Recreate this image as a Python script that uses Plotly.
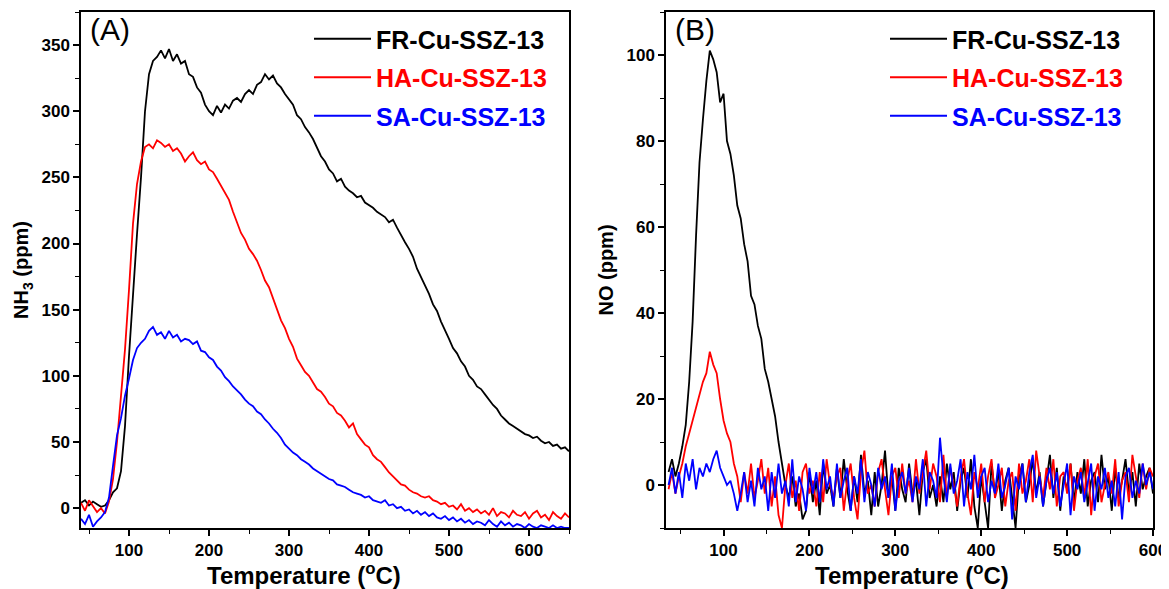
import plotly.graph_objects as go

# ---------------- Panel A: NH3 (ppm) vs temperature ----------------
temp_a = list(range(40, 651, 5))

nh3_fr = [4, 6, 2, 5, 3, 1, 2, 6, 12, 15,
          28, 62, 115, 165, 207, 250, 300, 328, 338, 341,
          346, 340, 347, 338, 343, 336, 338, 328, 326, 318,
          314, 305, 300, 297, 304, 299, 305, 302, 308, 310,
          307, 313, 316, 313, 320, 322, 328, 324, 327, 321,
          318, 313, 309, 305, 297, 294, 288, 284, 279, 272,
          266, 262, 256, 253, 247, 249, 243, 240, 238, 235,
          236, 231, 229, 227, 224, 222, 220, 216, 218, 212,
          206, 201, 196, 190, 181, 175, 168, 162, 154, 149,
          141, 135, 128, 121, 117, 111, 107, 100, 97, 92,
          90, 86, 82, 78, 75, 70, 67, 64, 62, 60,
          58, 56, 55, 53, 54, 51, 49, 50, 47, 48,
          45, 46, 43]

nh3_ha = [4, -2, 6, 1, -3, 0, -4, 5, 22, 50,
          82, 120, 165, 215, 245, 262, 273, 275, 272, 278,
          276, 273, 275, 270, 272, 268, 262, 266, 269, 263,
          260, 262, 256, 254, 249, 244, 238, 233, 224, 216,
          208, 203, 196, 192, 187, 180, 172, 167, 159, 150,
          142, 136, 128, 122, 113, 108, 103, 100, 95, 90,
          88, 84, 79, 77, 72, 70, 66, 61, 64, 56,
          52, 48, 46, 40, 37, 35, 31, 27, 24, 21,
          18, 17, 14, 12, 11, 9, 8, 9, 6, 5,
          3, 4, 1, 2, -1, 3, -2, 0, -3, -1,
          -4, -2, -5, 0, -6, -3, -4, -7, -2, -5,
          -6, -3, -8, -4, -2, -7, -5, -9, -3, -6,
          -8, -4, -7]

nh3_sa = [-8, -12, -5, -14, -10, -7, -3, 8, 32, 55,
          68, 85, 98, 112, 121, 125, 128, 134, 137, 131,
          133, 128, 134, 129, 131, 126, 128, 127, 124, 126,
          119, 118, 114, 112, 107, 104, 99, 96, 92, 89,
          86, 82, 79, 77, 73, 71, 67, 64, 60, 57,
          53, 48, 45, 42, 40, 37, 35, 33, 30, 28,
          26, 24, 22, 21, 18, 17, 16, 14, 12, 11,
          10, 8, 9, 6, 5, 4, 6, 2, 3, 0,
          1, -2, -1, -4, -2, -5, -3, -6, -4, -7,
          -8, -6, -9, -7, -10, -8, -11, -9, -12, -10,
          -11, -13, -9, -12, -14, -10, -13, -11, -14, -12,
          -13, -15, -12, -14, -15, -13, -14, -15, -13, -15,
          -14, -15, -15]

# ---------------- Panel B: NO (ppm) vs temperature ----------------
temp_b = list(range(36, 601, 4))

no_fr = [3, 6, 2, 5, 9, 14, 24, 38, 58, 75,
         85, 94, 101, 99, 96, 89, 91, 80, 77, 72,
         65, 62, 56, 52, 44, 42, 37, 34, 27, 24,
         20, 16, 10, 5, 0, -3, 2, -5, -2, -8,
         -6, 3, -4, 1, -7, 5, -2, 0, -5, 4,
         -3, 6, -1, -6, 2, -4, 7, -2, 1, -7,
         3, -5, 0, 8, -3, 2, -6, 4, -1, -4,
         5, -2, 1, -7, 3, 6, -3, 0, -5, 2,
         -4, 5, -1, 3, -6, 1, 4, -3, 6, -5,
         -10, 2, -4, -10, 5, -2, 3, -6, 1, 4,
         -3, -10, 2, 5, -4, 0, 6, -2, 3, -5,
         1, 7, -3, 4, -6, 2, -1, 5, -4, 3,
         -2, 6, -5, 1, 3, -4, 7, -1, 2, -6,
         4, -3, 1, 6, -2, 3, -5, 5, -1, 2,
         4, -2]

no_ha = [-1, 3, -2, 2, 5, 9, 12, 15, 18, 21,
         24, 26, 31, 28, 26, 20, 15, 12, 10, 5,
         2, -4, 3, -2, 5, -3, 1, 6, -2, 4,
         -5, 2, -7, -10, 0, 5, -3, 1, -6, 3,
         5, -2, 1, -5, 3, -4, 6, 0, -3, 2,
         4, -6, 1, 5, -3, -8, 3, 8, -2, 0,
         -5, 3, 6, -1, -7, 2, 4, -3, 5, -2,
         1, -4, 6, -2, 3, 8, -1, 5, 2, -4,
         7, -3, 4, 0, -5, 2, 6, -2, -7, 3,
         -1, 5, -4, 2, 6, -3, 0, 4, -5, 1,
         3, -6, 5, -2, 1, 6, -4, 8, 2, -3,
         4, -1, 6, -5, 2, 3, -2, 5, -6, 1,
         4, -3, 6, -7, 2, 5, -4, 0, 3, -2,
         6, -5, 1, 3, -4, 7, 2, -3, 5, -1,
         4, 2]

no_sa = [0, 4, -2, 3, -3, 5, 1, 6, -1, 4,
         2, 5, 3, 6, 8, 4, 2, 0, 1, -2,
         -6, -2, 3, -4, 1, -5, 4, -1, 2, -6,
         3, -3, 5, -2, 1, -5, 6, -4, 2, -1,
         -6, 4, -2, 3, -4, 6, -1, 2, -5, 5,
         -3, 1, 4, -6, 2, -2, 6, -4, 3, 0,
         -5, 4, -1, 2, -3, 5, -6, 1, 3, -2,
         4, -4, 2, -1, 6, -5, 3, 1, -3, 11,
         2, -4, 5, -2, 1, 6, -5, 3, -1, 7,
         -3, 2, 4, -4, 1, -2, 5, -3, 0, 4,
         -8, 2, -1, 5, -4, 3, 7, -3, 2, -5,
         1, 4, -2, 3, -5, 0, 5, -7, 2, -1,
         3, -4, 1, 5, -6, 2, -1, 4, -3, 1,
         -5, 3, -8, 2, 4, -3, 1, -2, 5, 0,
         3, -1]

series_names = ["FR-Cu-SSZ-13", "HA-Cu-SSZ-13", "SA-Cu-SSZ-13"]
series_colors = ["#000000", "#ff0000", "#0000ff"]

x_ticks = [100, 200, 300, 400, 500, 600]
ya_ticks = [0, 50, 100, 150, 200, 250, 300, 350]
yb_ticks = [0, 20, 40, 60, 80, 100]

FONT = "Liberation Sans, Arial, sans-serif"
# the page body has an 8px margin, so the figure starts at (8, 8) in the window
OFF = 8
W, H = 1169 - OFF, 589 - OFF

fig = go.Figure()

for name, color, ys in zip(series_names, series_colors, [nh3_fr, nh3_ha, nh3_sa]):
    fig.add_trace(go.Scatter(
        x=temp_a, y=ys, mode="lines", xaxis="x", yaxis="y",
        line=dict(color=color, width=1.8),
        name=f"<span style='color:{color}'>{name}</span>",
        legend="legend", legendgroup="a" + name))

for name, color, ys in zip(series_names, series_colors, [no_fr, no_ha, no_sa]):
    fig.add_trace(go.Scatter(
        x=temp_b, y=ys, mode="lines", xaxis="x2", yaxis="y2",
        line=dict(color=color, width=1.8),
        name=f"<span style='color:{color}'>{name}</span>",
        legend="legend2", legendgroup="b" + name))


def px_x(p):
    return (p - OFF) / W


def px_y(p):
    return 1 - (p - OFF) / H


def bold(vals):
    return [f"<b>{v}</b>" for v in vals]


axis_common = dict(
    showline=True, linecolor="black", linewidth=1.5, mirror=True,
    ticks="outside", ticklen=6, tickwidth=1.5, tickcolor="black",
    showgrid=False, zeroline=False,
    tickfont=dict(family=FONT, size=17, color="black"),
    automargin=False,
)
minor_style = dict(ticks="outside", ticklen=4, tickcolor="black", tickwidth=1.2, tick0=0)

ydom = [px_y(528), px_y(12)]
title_font_x = dict(family=FONT, size=24, color="black")
title_font_y = dict(family=FONT, size=20, color="black", weight="bold")

fig.update_layout(
    width=W, height=H,
    margin=dict(l=0, r=0, t=0, b=0),
    paper_bgcolor="white", plot_bgcolor="white",
    font=dict(family=FONT, color="black"),
    xaxis=dict(domain=[px_x(81), px_x(569)], range=[40, 650],
               tickvals=x_ticks, ticktext=bold(x_ticks),
               minor=dict(dtick=50, **minor_style),
               anchor="y", **axis_common),
    yaxis=dict(domain=ydom, range=[-15, 375],
               tickvals=ya_ticks, ticktext=bold(ya_ticks),
               minor=dict(dtick=25, **minor_style),
               title=dict(text="<b>NH<sub>3</sub> (ppm)</b>", standoff=7, font=title_font_y),
               anchor="x", **axis_common),
    xaxis2=dict(domain=[px_x(666), px_x(1153)], range=[33, 600],
                tickvals=x_ticks, ticktext=bold(x_ticks),
                minor=dict(dtick=50, **minor_style),
                anchor="y2", **axis_common),
    yaxis2=dict(domain=ydom, range=[-10, 110],
                tickvals=yb_ticks, ticktext=bold(yb_ticks),
                minor=dict(dtick=10, **minor_style),
                title=dict(text="<b>NO (ppm)</b>", standoff=7, font=title_font_y),
                anchor="x2", **axis_common),
    legend=dict(x=px_x(309), y=px_y(16), xanchor="left", yanchor="top",
                bgcolor="rgba(0,0,0,0)", itemwidth=57, tracegroupgap=3,
                font=dict(family=FONT, size=25, weight="bold")),
    legend2=dict(x=px_x(885), y=px_y(16), xanchor="left", yanchor="top",
                 bgcolor="rgba(0,0,0,0)", itemwidth=57, tracegroupgap=3,
                 font=dict(family=FONT, size=25, weight="bold")),
    annotations=[
        dict(text="(A)", x=px_x(88), y=px_y(11), xref="paper", yref="paper",
             xanchor="left", yanchor="top", showarrow=False,
             font=dict(family=FONT, size=30, color="black")),
        dict(text="(B)", x=px_x(673), y=px_y(11), xref="paper", yref="paper",
             xanchor="left", yanchor="top", showarrow=False,
             font=dict(family=FONT, size=30, color="black")),
        dict(text="<b>Temperature (<sup>o</sup>C)</b>", x=px_x(304), y=px_y(574),
             xref="paper", yref="paper", xanchor="center", yanchor="middle",
             showarrow=False, font=title_font_x),
        dict(text="<b>Temperature (<sup>o</sup>C)</b>", x=px_x(912), y=px_y(574),
             xref="paper", yref="paper", xanchor="center", yanchor="middle",
             showarrow=False, font=title_font_x),
    ],
)

fig.write_html("out.html")
